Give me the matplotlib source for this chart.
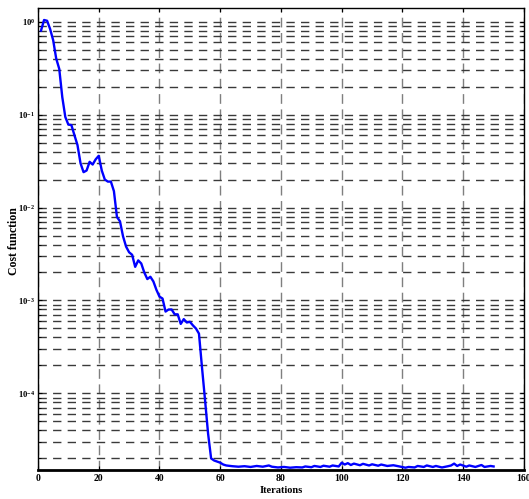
import numpy as np
import matplotlib
matplotlib.use('Agg')
import matplotlib.pyplot as plt
from matplotlib.ticker import LogLocator, NullFormatter, FixedLocator

plt.rcParams['font.family'] = ['Liberation Serif', 'DejaVu Serif']
plt.rcParams['font.weight'] = 'bold'
plt.rcParams['mathtext.fontset'] = 'custom'
plt.rcParams['mathtext.rm'] = 'Liberation Serif:bold'
plt.rcParams['mathtext.bf'] = 'Liberation Serif:bold'

# Значения функции стоимости по итерациям
iters = [1, 2, 3, 4, 5, 6, 7, 8, 9, 10, 11, 12, 13, 14, 15, 16, 17, 18, 19, 20,
         21, 22, 23, 24, 25, 26, 27, 28, 29, 30, 31, 32, 33, 34, 35, 36, 37, 38,
         39, 40, 41, 42, 43, 44, 45, 46, 47, 48, 49, 50, 51, 52, 53, 54, 55, 56,
         57, 58, 59, 60, 61, 62, 64, 66, 68, 70, 72, 74, 76, 77, 79, 81, 83, 85,
         87, 88, 90, 91, 93, 94, 96, 97, 99, 100, 101, 102, 103, 104, 106, 107,
         109, 110, 112, 113, 115, 117, 119, 121, 122, 124, 125, 127, 128, 130,
         131, 133, 135, 136, 137, 138, 139, 141, 142, 144, 146, 147, 149, 150]
cost = [0.80, 1.04, 1.02, 0.83, 0.63, 0.40, 0.31, 0.154, 0.094, 0.078,
        0.077, 0.060, 0.047, 0.030, 0.024, 0.025, 0.031, 0.029, 0.033, 0.036,
        0.025, 0.020, 0.019, 0.019, 0.0150, 0.0079, 0.0071, 0.0049, 0.0038,
        0.0033, 0.0031, 0.0023, 0.0027, 0.0025, 0.0020, 0.0017, 0.0018,
        0.0016, 0.0013, 0.0011, 0.00105, 0.00076, 0.00080, 0.00080, 0.00071,
        0.00071, 0.00056, 0.00063, 0.00058, 0.00059, 0.00054, 0.00050,
        0.00044, 0.00019, 8.5e-5, 3.7e-5, 2.0e-5, 1.9e-5, 1.85e-5, 1.8e-5,
        1.72e-5, 1.68e-5, 1.65e-5, 1.63e-5, 1.65e-5, 1.62e-5, 1.66e-5,
        1.63e-5, 1.68e-5, 1.63e-5, 1.60e-5, 1.62e-5, 1.59e-5, 1.61e-5,
        1.60e-5, 1.64e-5, 1.61e-5, 1.66e-5, 1.62e-5, 1.67e-5, 1.63e-5,
        1.68e-5, 1.64e-5, 1.80e-5, 1.72e-5, 1.78e-5, 1.70e-5, 1.76e-5,
        1.69e-5, 1.75e-5, 1.68e-5, 1.73e-5, 1.67e-5, 1.72e-5, 1.66e-5,
        1.69e-5, 1.64e-5, 1.59e-5, 1.62e-5, 1.60e-5, 1.66e-5, 1.62e-5,
        1.68e-5, 1.62e-5, 1.66e-5, 1.60e-5, 1.65e-5, 1.68e-5, 1.76e-5,
        1.66e-5, 1.72e-5, 1.63e-5, 1.68e-5, 1.62e-5, 1.70e-5, 1.62e-5,
        1.66e-5, 1.64e-5]

x_ticks = [0, 20, 40, 60, 80, 100, 120, 140, 160]
y_ticks = [1e-4, 1e-3, 1e-2, 1e-1, 1e0]
y_labels = [r'$\mathbf{10^{-4}}$', r'$\mathbf{10^{-3}}$', r'$\mathbf{10^{-2}}$',
            r'$\mathbf{10^{-1}}$', r'$\mathbf{10^{0}}$']

fig = plt.figure(figsize=(5.29, 4.99), dpi=100)
ax = fig.add_axes([0.0718, 0.058, 0.9187, 0.926])

ax.semilogy(iters, cost, color='#0000ff', linewidth=1.7, zorder=3)

ax.set_xlim(0, 160)
ax.set_ylim(1.5e-5, 1.40)
ax.xaxis.set_major_locator(FixedLocator(x_ticks))
ax.set_xticklabels([str(t) for t in x_ticks])
ax.set_yticks(y_ticks)
ax.set_yticklabels(y_labels)
ax.yaxis.set_minor_locator(LogLocator(base=10, subs=np.arange(2, 10)))
ax.yaxis.set_minor_formatter(NullFormatter())

# Сетка в стиле MATLAB
ax.grid(True, which='major', axis='x', color='#7f7f7f', linestyle=(0, (7, 4)), linewidth=1.0)
ax.grid(True, which='both', axis='y', color='#3a3a3a', linestyle=(0, (6, 4.5)), linewidth=1.0)
ax.set_axisbelow(True)

ax.tick_params(axis='both', which='both', direction='in', top=True, right=True,
               labelsize=7, length=3, pad=3)
ax.tick_params(axis='y', which='major', labelsize=6.2, pad=2)
ax.tick_params(axis='y', which='minor', length=2)
for lbl in ax.get_xticklabels():
    lbl.set_fontweight('bold')

for s in ax.spines.values():
    s.set_linewidth(1.0)
ax.spines['bottom'].set_linewidth(2.0)

ax.set_xlabel('Iterations', fontsize=7.5, fontweight='bold', labelpad=2)
fig.text(14 / 529, 0.517, 'Cost function', rotation=90, ha='center', va='center',
         fontsize=8.5, fontweight='bold')

plt.savefig('out.png', dpi=100)
